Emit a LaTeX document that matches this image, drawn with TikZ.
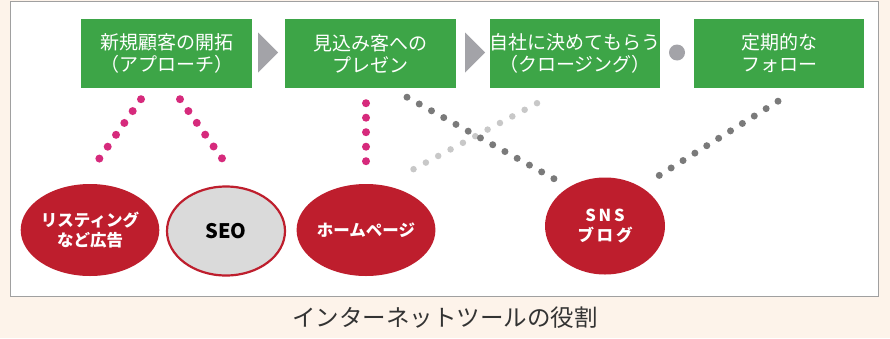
\documentclass[tikz,border=0pt]{standalone}
\usepackage{fontspec}
\setmainfont{Noto Sans CJK JP}
\usetikzlibrary{shapes.geometric,calc}
\definecolor{bg}{HTML}{FDF3EA}
\definecolor{boxgreen}{HTML}{3DA547}
\definecolor{toolred}{HTML}{BE1E2D}
\definecolor{dotpink}{HTML}{D62A7C}
\definecolor{dotdark}{HTML}{7A7A7A}
\definecolor{dotlight}{HTML}{C8C8C8}
\definecolor{seogray}{HTML}{DADADA}
\definecolor{arrowgray}{HTML}{A3A3A8}
\definecolor{framegray}{HTML}{A0A0A0}
\definecolor{captiongray}{HTML}{333333}
\begin{document}
\begin{tikzpicture}[x=1pt,y=-1pt,
  stagebox/.style={rectangle, fill=boxgreen, text=white, minimum width=171pt, minimum height=69pt, inner sep=0pt, align=center, font=\fontsize{19}{22}\selectfont},
  toolcirc/.style={ellipse, fill=toolred, text=white, minimum width=120pt, minimum height=92pt, inner sep=0pt, align=center, font=\fontsize{16.5}{19.5}\selectfont\bfseries},
  seocirc/.style={ellipse, fill=seogray, draw=toolred, line width=2.2pt, text=black, minimum width=118pt, minimum height=89pt, inner sep=0pt, align=center, font=\fontsize{20}{22}\selectfont\bfseries},
  pinkdots/.style={draw=dotpink, line width=8pt, line cap=round, dash pattern=on 0pt off 14.5pt},
  darkdots/.style={draw=dotdark, line width=7pt, line cap=round, dash pattern=on 0pt off 14pt},
  lightdots/.style={draw=dotlight, line width=6.5pt, line cap=round, dash pattern=on 0pt off 14pt},
  flowtri/.style={fill=arrowgray},
]
\useasboundingbox (0,0) rectangle (890,338);
\fill[bg] (0,0) rectangle (890,338);
\draw[framegray, fill=white, line width=0.8pt] (10,1.5) rectangle (878,296);

% stage boxes
\node[stagebox] (b1) at (166.5,53.5) {新規顧客の開拓\\（アプローチ）};
\node[stagebox] (b2) at (370.5,53.5) {見込み客への\\プレゼン};
\node[stagebox, minimum width=170pt] (b3) at (575,53.5) {自社に決めてもらう\\（クロージング）};
\node[stagebox, minimum width=170pt] (b4) at (779,53.5) {定期的な\\フォロー};

% arrows between boxes
\fill[flowtri] ($(b1.east)+(6,-21)$) -- ($(b1.east)+(6,19)$) -- ($(b1.east)+(26,-1)$) -- cycle;
\fill[flowtri] ($(b2.east)+(9,-21)$) -- ($(b2.east)+(9,19)$) -- ($(b2.east)+(29,-1)$) -- cycle;
\node[circle, fill=arrowgray, minimum size=16pt, inner sep=0pt] (dot) at ($(b3.east)!0.5!(b4.west)+(0,-1)$) {};

% tools
\node[toolcirc] (list) at (90,230) {リスティング\\など広告};
\node[seocirc] (seo) at (226,231) {SEO};
\node[toolcirc] (hp) at (366,230) {ホームページ};
\node[toolcirc, minimum height=97pt] (sns) at (605,226) {S\,N\,S\\ブ\,ロ\,グ};

% connector endpoints
\coordinate (p1s) at ($(b1.south)+(-25.5,11)$);
\coordinate (p1e) at ($(list.north)+(5,-19)$);
\coordinate (p2s) at ($(b1.south)+(13.5,11)$);
\coordinate (p2e) at ($(seo.north)+(1,-20)$);
\coordinate (p3s) at ($(hp.north |- b2.south)+(0,15)$);
\coordinate (p3e) at ($(hp.north)+(0,-19)$);
\coordinate (g1s) at ($(b2.south)+(36.5,9)$);
\coordinate (g1e) at ($(sns.north)+(-50,2)$);
\coordinate (g2s) at ($(b3.south)+(-38,15)$);
\coordinate (g2e) at ($(hp.north)+(37,-9)$);
\coordinate (g3s) at ($(b4.south)+(-1,13)$);
\coordinate (g3e) at ($(sns.north)+(48,2)$);

% dotted connectors
\draw[pinkdots] (p1s) -- (p1e);
\draw[pinkdots] (p2s) -- (p2e);
\draw[pinkdots] (p3s) -- (p3e);
\draw[lightdots] (g2s) -- (g2e);
\draw[darkdots] (g1s) -- (g1e);
\draw[darkdots] (g3s) -- (g3e);

% caption
\node[text=captiongray, font=\fontsize{23.5}{27}\selectfont] (cap) at (445,318) {インターネットツールの役割};
\end{tikzpicture}
\end{document}
